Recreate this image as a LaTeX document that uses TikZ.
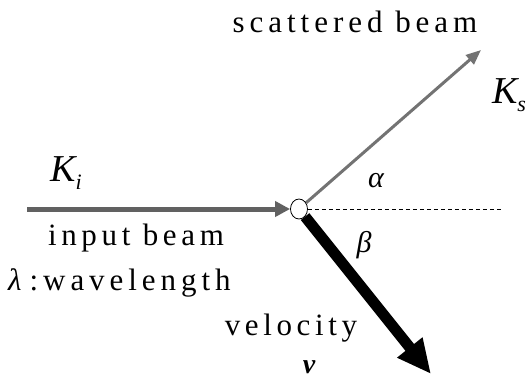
\documentclass[tikz,border=0pt]{standalone}
\usepackage{fontspec}
\setmainfont{Liberation Serif}
\usetikzlibrary{arrows.meta,positioning,shapes.geometric,backgrounds}

\begin{document}
\begin{tikzpicture}[
            x=1pt, y=-1pt,
            beam/.style={
                draw=black!62,
                line width=5pt,
                -{Triangle[length=15pt,width=15pt]}
            },
            sbeam/.style={
                draw=black!55,
                line width=3pt,
                -{Triangle[length=15pt,width=12pt]}
            },
            vbeam/.style={
                draw=black,
                line width=11pt,
                -{Triangle[length=34pt,width=30pt]}
            },
            label/.style={
                font=\fontsize{31}{36}\selectfont\addfontfeatures{LetterSpace=15}
            },
            sym/.style={
                font=\fontsize{38}{40}\selectfont\itshape
            },
            greek/.style={
                font=\fontsize{30}{32}\selectfont\itshape
            }
        ]

            % Page frame
            \useasboundingbox (0,0) rectangle (531,384);

            % Scattering point
            \node[ellipse, draw, fill=white, line width=0.8pt,
                  minimum width=17pt, minimum height=20pt, inner sep=0pt] (hit) at (299,209) {};

            % Free ends
            \coordinate (src) at (27,209);
            \coordinate (kstip) at (481,50);
            \coordinate (vtip) at (431,374);
            \coordinate (dashend) at (502,209);

            % Beams
            \begin{scope}[on background layer]
                \draw[beam] (src) -- (hit.west);
                \draw[sbeam] (hit) -- (kstip);
                \draw[vbeam] (hit) -- (vtip);
            \end{scope}
            \draw[dashed, line width=0.6pt, dash pattern=on 4pt off 3pt] (hit.east) -- (dashend);

            % Labels
            \node[label, font=\fontsize{31}{36}\selectfont\addfontfeatures{LetterSpace=16}] (scat) at (355,22) {scattered beam};
            \node[sym] (ki) at (66,173) {K\raisebox{-8pt}{\fontsize{22}{24}\selectfont i}};
            \node[sym] (ks) at (509,95) {K\raisebox{-8pt}{\fontsize{22}{24}\selectfont s}};
            \node[greek] (alpha) at (376,181) {α};
            \node[greek] (beta) at (364,245) {β};
            \node[label] (inp) at (136,238) {input beam};
            \node[label, font=\fontsize{31}{36}\selectfont\addfontfeatures{LetterSpace=16},
                  anchor=base west, inner sep=0pt]
                (lam) at (8,290) {\textit{λ}\hspace{3pt}:wavelength};
            \node[label] (vel) at (291,328) {velocity};
            \node[font=\fontsize{28}{30}\selectfont\bfseries\itshape] (vv) at (309,367) {v};

        \end{tikzpicture}
\end{document}
